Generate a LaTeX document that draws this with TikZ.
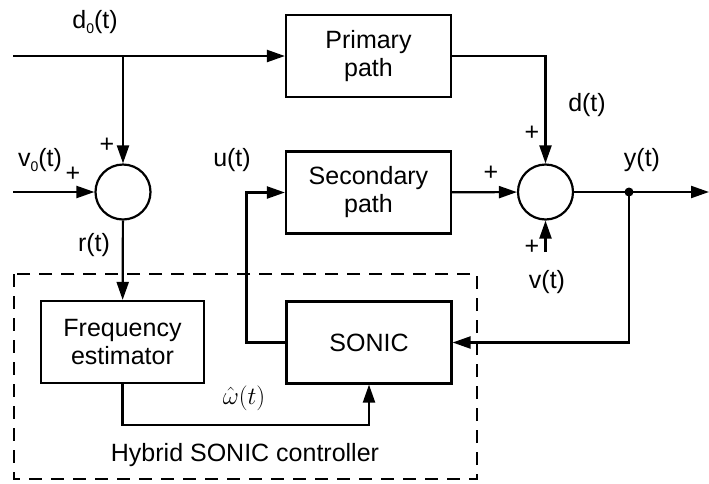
\documentclass[tikz,border=0pt]{standalone}
\usepackage{fontspec}
\setmainfont{Liberation Sans}
\usetikzlibrary{arrows.meta, positioning}

\newcommand{\subz}{\raisebox{-0.45ex}{\fontsize{14}{14}\selectfont 0}}

\tikzset{
  blk/.style={draw, line width=2.2pt, minimum width=165pt, minimum height=82pt, align=center, inner sep=0pt},
  sumnode/.style={draw, circle, line width=2.2pt, minimum size=55pt, inner sep=0pt},
  sig/.style={line width=2.2pt, -{Triangle[length=18pt,width=12pt]}},
  wire/.style={line width=2.2pt},
  lbl/.style={inner sep=0pt}
}

\begin{document}
\begin{tikzpicture}[x=1pt, y=-1pt, font=\fontsize{25}{28}\selectfont]
  \useasboundingbox (0,0) rectangle (709,483);

  % blocks
  \node[blk] (pp) at (368.5,56) {Primary\\path};
  \node[blk] (sp) at (368.5,192.5) {Secondary\\path};
  \node[blk] (so) at (369,342.5) {SONIC};
  \node[blk, minimum width=163pt] (fe) at (122.5,342) {Frequency\\estimator};
  \node[sumnode] (s1) at (123,192) {};
  \node[sumnode] (s2) at (545.5,192) {};

  \coordinate (in0) at (13,56);
  \coordinate (j0) at (123,56);
  \coordinate (inv) at (13,192);
  \coordinate (yd) at (629,192);
  \coordinate (out) at (709,192);
  \coordinate (vin) at (545.5,252);

  % signals
  \draw[wire] (in0) -- (j0);
  \draw[sig] (j0) -- (pp);
  \draw[sig] (j0) -- (s1);
  \draw[sig] (inv) -- (s1);
  \draw[sig] (s1) -- (fe);
  \draw[sig] (pp) -| (s2);
  \draw[sig] (sp) -- (s2);
  \draw[sig] (vin) -- (s2);
  \draw[wire] (s2) -- (yd);
  \draw[sig] (yd) -- (out);
  \fill (yd) circle (4.5pt);
  \draw[sig] (yd) |- (so);
  \draw[sig] (so.west) -- ++(-39,0) |- (sp.west);
  \draw[sig] (fe.south) -- ++(0,41) -| (so.south);

  % controller frame
  \draw[line width=2.2pt, dash pattern=on 13pt off 9pt] (14,274) rectangle (477,479);
  \node[lbl] (hsc) at (245,455) {Hybrid SONIC controller};

  % labels
  \node[lbl] (d0) at (95,22) {d\subz(t)};
  \node[lbl] (v0) at (40,160) {v\subz(t)};
  \node[lbl] at (73,174) {+};
  \node[lbl] at (107,145) {+};
  \node[lbl] (rt) at (94,245) {r(t)};
  \node[lbl] (ut) at (232,160) {u(t)};
  \node[lbl] (dt) at (587,105) {d(t)};
  \node[lbl] at (532,133) {+};
  \node[lbl] at (491,173) {+};
  \node[lbl] at (532,247) {+};
  \node[lbl] (yt) at (642,160) {y(t)};
  \node[lbl] (vt) at (547,282) {v(t)};
  \node[lbl, font=\fontsize{24}{26}\selectfont] (wt) at (244,398) {$\hat{\omega}(t)$};
\end{tikzpicture}
\end{document}
